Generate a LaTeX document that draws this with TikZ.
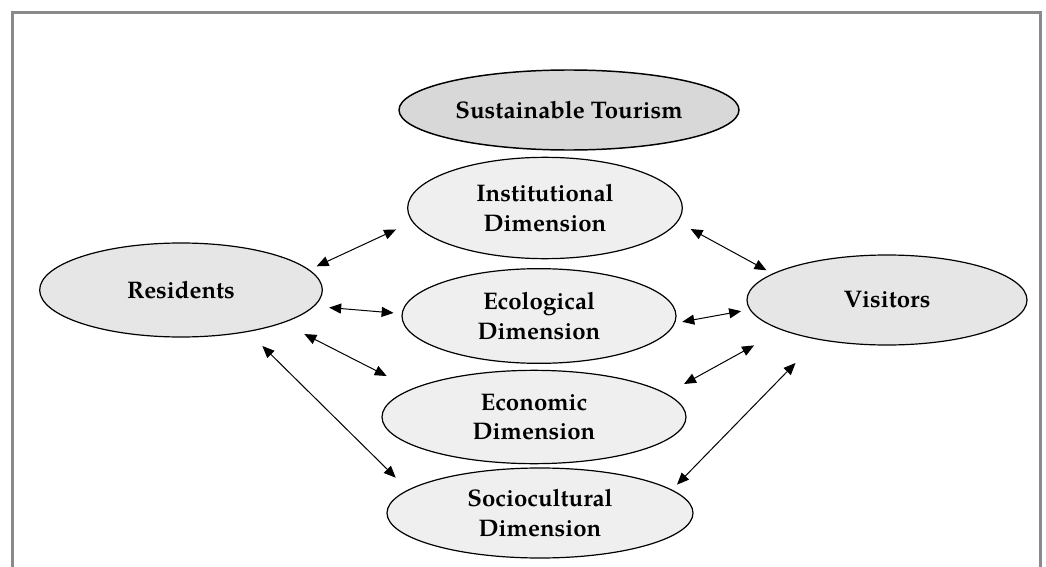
\documentclass[tikz,border=0pt]{standalone}
\usepackage{fontspec}
\setmainfont{TeX Gyre Pagella}
\usetikzlibrary{shapes.geometric,arrows.meta}

\definecolor{framegray}{HTML}{8A8A8A}
\definecolor{topfill}{HTML}{D8D8D8}
\definecolor{sidefill}{HTML}{E6E6E6}
\definecolor{dimfill}{HTML}{EFEFEF}

\tikzset{
  oval/.style={ellipse, draw=black, line width=0.9pt, inner sep=0pt,
    align=center, font=\fontsize{18}{22}\selectfont\bfseries},
  dimoval/.style={oval, fill=dimfill},
  sideoval/.style={oval, fill=sidefill},
  topoval/.style={oval, fill=topfill, line width=1.1pt},
  link/.style={{Triangle[length=9pt,width=7.5pt]}-{Triangle[length=9pt,width=7.5pt]},
    line width=0.75pt, black},
}

\begin{document}
\begin{tikzpicture}[x=0.75pt, y=-0.75pt]
  \useasboundingbox (0,0) rectangle (1046,567);
  % open frame running off the lower edge
  \draw[framegray, line width=1.6pt] (12.5,567) -- (12.5,12.5) -- (1040.5,12.5) -- (1040.5,567);

  \node[topoval, minimum width=255pt, minimum height=60pt] (st) at (569,110) {Sustainable Tourism};
  \node[dimoval, minimum width=206pt, minimum height=76pt] (inst) at (545,208) {Institutional\\Dimension};
  \node[dimoval, minimum width=205.5pt, minimum height=71pt] (eco) at (539,316) {Ecological\\Dimension};
  \node[dimoval, minimum width=228pt, minimum height=70pt] (econ) at (534,417) {Economic\\Dimension};
  \node[dimoval, minimum width=229.5pt, minimum height=67.5pt] (soc) at (540,513) {Sociocultural\\Dimension};
  \node[sideoval, minimum width=212pt, minimum height=70.5pt] (res) at (181,290) {Residents};
  \node[sideoval, minimum width=210pt, minimum height=67.5pt] (vis) at (887,300) {Visitors};

  % residents to each dimension
  \draw[link, shorten <=6pt, shorten >=13.4pt] (res.9.7) -- (inst.186.5);
  \draw[link, shorten <=11.2pt, shorten >=6pt] (res.353.1) -- (eco.179.6);
  \draw[link, shorten <=18pt, shorten >=21pt] (res.342.1) -- (econ.167.7);
  \draw[link, shorten <=15pt, shorten >=12.8pt] (res.328.2) -- (soc.170);

  % each dimension to visitors
  \draw[link, shorten <=11pt, shorten >=5.1pt] (inst.354.2) -- (vis.167.5);
  \draw[link, shorten <=5.5pt, shorten >=6.4pt] (eco.357.2) -- (vis.184.8);
  \draw[link, shorten <=14.9pt, shorten >=23.6pt] (econ.10.6) -- (vis.196.9);
  \draw[link, shorten <=5.3pt, shorten >=24.3pt] (soc.10.3) -- (vis.210.5);
\end{tikzpicture}
\end{document}
